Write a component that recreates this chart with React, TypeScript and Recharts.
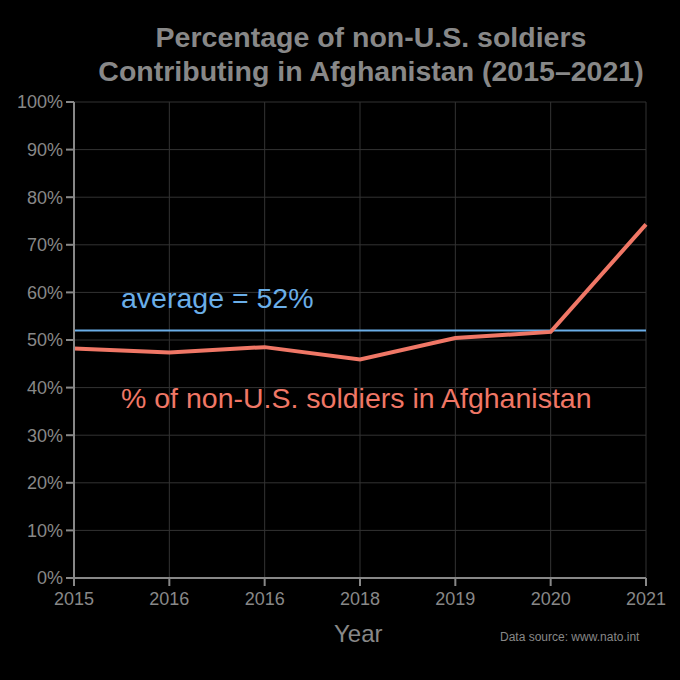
import React from 'react';
import { LineChart, Line, XAxis, YAxis, CartesianGrid, ReferenceLine } from 'recharts';

const yearLabels = ['2015', '2016', '2016', '2018', '2019', '2020', '2021'];
const shares = [48.2, 47.4, 48.5, 45.9, 50.4, 51.7, 74.3];
const averageShare = 52;
const yTicks = [0, 10, 20, 30, 40, 50, 60, 70, 80, 90, 100];

const data = shares.map((v, i) => ({ idx: i, share: v }));
const font = 'Liberation Sans, Arial, sans-serif';

export default function App() {
  return (
    <div style={{ position: 'absolute', left: 0, top: 0, width: 680, height: 680, background: '#000', fontFamily: font }}>
      <LineChart width={680} height={680} data={data} margin={{ top: 102, right: 34, bottom: 0, left: 0 }}>
        <CartesianGrid stroke="#333" strokeWidth={1} />
        <XAxis dataKey="idx" type="number" domain={[0, 6]} ticks={[0, 1, 2, 3, 4, 5, 6]}
          tickFormatter={(v: number) => yearLabels[v]} height={102}
          stroke="#888" strokeWidth={2} tick={{ fill: '#888', fontSize: 18, fontFamily: font }} tickSize={8} tickMargin={6} />
        <YAxis type="number" domain={[0, 100]} ticks={yTicks} width={74}
          tickFormatter={(v: number) => v + '%'} stroke="#888" strokeWidth={2}
          tick={{ fill: '#888', fontSize: 18, fontFamily: font }} tickSize={8} tickMargin={3} />
        <ReferenceLine y={averageShare} stroke="#6aaee8" strokeWidth={2} />
        <Line dataKey="share" stroke="#f07766" strokeWidth={4} dot={false} isAnimationActive={false} />
      </LineChart>
      <div style={{ position: 'absolute', top: 20, left: 0, width: 742, textAlign: 'center', color: '#888', fontWeight: 'bold', fontSize: 28.5, lineHeight: '34px' }}>
        Percentage of non-U.S. soldiers<br />Contributing in Afghanistan (2015–2021)
      </div>
      <div style={{ position: 'absolute', top: 282, left: 121, color: '#6aaee8', fontSize: 28.5 }}>average = 52%</div>
      <div style={{ position: 'absolute', top: 382, left: 121, color: '#f07766', fontSize: 28.5 }}>% of non-U.S. soldiers in Afghanistan</div>
      <div style={{ position: 'absolute', top: 620, left: 334, color: '#888', fontSize: 24 }}>Year</div>
      <div style={{ position: 'absolute', top: 630, left: 500, color: '#888', fontSize: 12 }}>Data source: www.nato.int</div>
    </div>
  );
}
